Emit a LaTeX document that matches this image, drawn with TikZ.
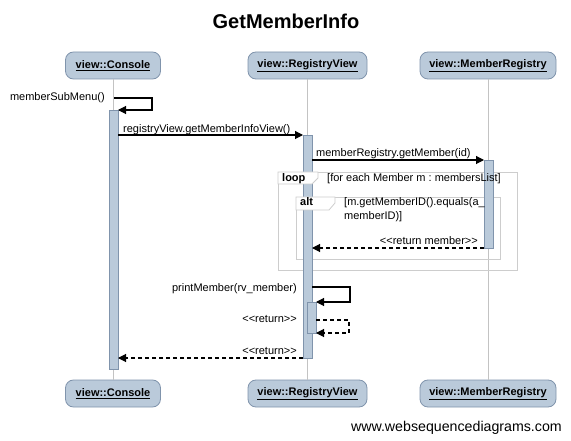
\documentclass[tikz,border=0pt]{standalone}
\usepackage{fontspec}
\setmainfont{Liberation Sans}
\usetikzlibrary{arrows.meta}
\frenchspacing
\definecolor{partfill}{RGB}{186,202,218}
\definecolor{partdraw}{RGB}{128,148,172}
\definecolor{framegray}{RGB}{205,205,205}
\definecolor{lifegray}{RGB}{195,195,195}
\begin{document}
\begin{tikzpicture}[x=1pt,y=-1pt,
  participant/.style={rectangle, rounded corners=8pt, fill=partfill, draw=partdraw, line width=0.8pt,
    minimum height=27pt, inner sep=0pt, font=\fontsize{11}{13}\selectfont\bfseries},
  actbar/.style={fill=partfill, draw=partdraw, line width=0.6pt},
  lifeline/.style={draw=lifegray, line width=0.8pt},
  lbl/.style={font=\fontsize{11}{13}\selectfont, inner sep=0pt},
  msg/.style={draw=black, line width=1.1pt, -{Triangle[length=8pt,width=8pt]}},
  retmsg/.style={draw=black, line width=1.1pt, dash pattern=on 4pt off 3pt, -{Triangle[length=8pt,width=8pt]}},
  frame/.style={draw=framegray, line width=0.8pt},
  tab/.style={draw=framegray, line width=0.8pt, fill=white}
]
\useasboundingbox (0,0) rectangle (571,441);

% title
\node[font=\fontsize{20}{24}\selectfont\bfseries, anchor=base, inner sep=0pt] (title) at (286,29) {GetMemberInfo};

% participants
\node[participant, minimum width=95pt] (ctop) at (113,65.5) {\underline{view::Console}};
\node[participant, minimum width=119pt] (rtop) at (307.5,65.5) {\underline{view::RegistryView}};
\node[participant, minimum width=136pt] (mtop) at (488,65.5) {\underline{view::MemberRegistry}};
\node[participant, minimum width=95pt] (cbot) at (113,393.5) {\underline{view::Console}};
\node[participant, minimum width=119pt] (rbot) at (307.5,393.5) {\underline{view::RegistryView}};
\node[participant, minimum width=136pt] (mbot) at (488,393.5) {\underline{view::MemberRegistry}};

% lifelines
\draw[lifeline] (ctop.south -| 113.5,0) -- (cbot.north -| 113.5,0);
\draw[lifeline] (rtop.south -| 307.5,0) -- (rbot.north -| 307.5,0);
\draw[lifeline] (mtop.south -| 488.5,0) -- (mbot.north -| 488.5,0);

% frames
\draw[frame] (278,172) rectangle (517,270);
\draw[frame] (296,197) rectangle (500,259);

% activation bars
\draw[actbar] (109,110) rectangle (118,369);
\draw[actbar] (303,135) rectangle (312,358);
\draw[actbar] (484,160) rectangle (493,248);
\draw[actbar] (307,302) rectangle (316,333);

% frame tabs and guards
\draw[tab] (278,172) -- (318,172) -- (318,178) -- (312,184) -- (278,184) -- cycle;
\node[font=\fontsize{11}{13}\selectfont\bfseries, anchor=base west, inner sep=0pt] (looplbl) at (282,182) {loop};
\node[lbl, anchor=base west] (loopcond) at (327,182) {[for each Member m : membersList]};

\draw[tab] (296,197) -- (335,197) -- (335,203) -- (329,210) -- (296,210) -- cycle;
\node[font=\fontsize{11}{13}\selectfont\bfseries, anchor=base west, inner sep=0pt] (altlbl) at (300,206) {alt};
\node[lbl, anchor=base west] (altcond1) at (344,206) {[m.getMemberID().equals(a\_};
\node[lbl, anchor=base west] (altcond2) at (344,220) {memberID)]};

% coordinates
\coordinate (s1a) at (114,98);
\coordinate (s1b) at (152,98);
\coordinate (s1c) at (152,110);
\coordinate (s1d) at (118,110);
\coordinate (m2a) at (118,135);
\coordinate (m2b) at (303,135);
\coordinate (m3a) at (312,160);
\coordinate (m3b) at (484,160);
\coordinate (r4a) at (484,248);
\coordinate (r4b) at (312,248);
\coordinate (s5a) at (312,287);
\coordinate (s5b) at (350,287);
\coordinate (s5c) at (350,302);
\coordinate (s5d) at (316,302);
\coordinate (r6a) at (316,320);
\coordinate (r6b) at (349,320);
\coordinate (r6c) at (349,333);
\coordinate (r6d) at (316,333);
\coordinate (r7a) at (303,358);
\coordinate (r7b) at (118,358);

% messages
\draw[msg] (s1a) -- (s1b) -- (s1c) -- (s1d);
\node[lbl, anchor=base east] (l1) at (105,101) {memberSubMenu()};

\draw[msg] (m2a) -- (m2b);
\node[lbl, anchor=base west] (l2) at (123,132.5) {registryView.getMemberInfoView()};

\draw[msg] (m3a) -- (m3b);
\node[lbl, anchor=base west] (l3) at (316,157) {memberRegistry.getMember(id)};

\draw[retmsg] (r4a) -- (r4b);
\node[lbl, anchor=base east] (l4) at (478,245) {<{}<return member>{}>};

\draw[msg] (s5a) -- (s5b) -- (s5c) -- (s5d);
\node[lbl, anchor=base east] (l5) at (297,291) {printMember(rv\_member)};

\draw[retmsg] (r6a) -- (r6b) -- (r6c) -- (r6d);
\node[lbl, anchor=base east] (l6) at (297,322.5) {<{}<return>{}>};

\draw[retmsg] (r7a) -- (r7b);
\node[lbl, anchor=base east] (l7) at (297,354) {<{}<return>{}>};

% footer
\node[font=\fontsize{14.2}{17}\selectfont, anchor=base east, inner sep=0pt] (footer) at (562,431) {www.websequencediagrams.com};
\end{tikzpicture}
\end{document}
